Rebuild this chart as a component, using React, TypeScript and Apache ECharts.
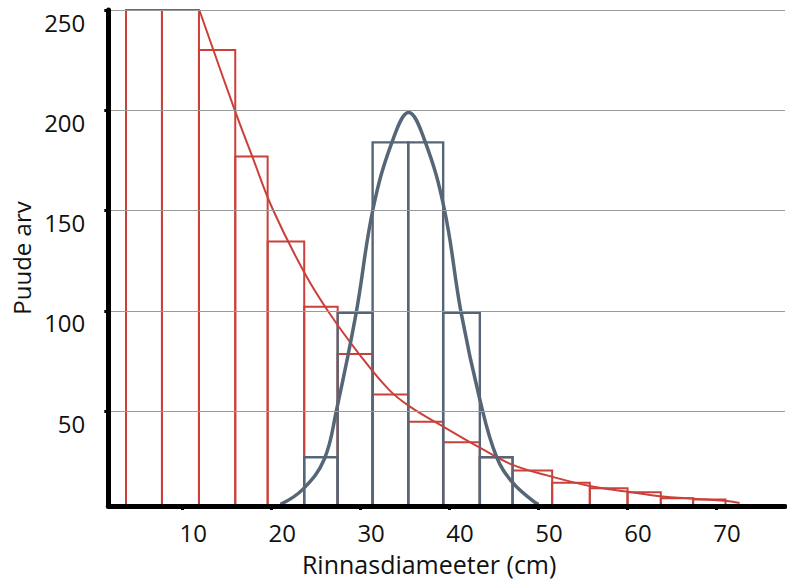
import React, { useEffect, useRef } from 'react';
import * as echarts from 'echarts';

const xTickValues = [10, 20, 30, 40, 50, 60, 70];
const yTickValues = [50, 100, 150, 200, 250];

const redEdges = [3.63, 7.67, 11.83, 15.91, 19.55, 23.66, 27.42, 31.35, 35.35, 39.28, 43.4, 47.08, 51.53, 55.76, 60.0, 63.74, 67.37, 71.01];
const redCounts = [250, 250, 230, 177, 134.6, 102, 78.5, 58.3, 44.7, 34.5, 27, 20.4, 14.3, 11.5, 9.6, 6.6, 6];

const greyEdges = [23.66, 27.42, 31.35, 35.35, 39.28, 43.4, 47.08];
const greyCounts = [27, 99, 184, 184, 99, 27];

const redCurveX = [11.87, 15.8, 17.84, 20.1, 23.7, 26.5, 29.9, 33.2, 35.5, 39.25, 43.4, 47.1, 51.6, 55.75, 59.9, 64, 71.2, 72.6];
const redCurveY = [250, 200.7, 176.8, 150.9, 118.9, 98.8, 78.1, 60.6, 52.4, 42.4, 31.8, 23.2, 17.2, 12.7, 9.9, 7.4, 5.2, 4.2];

const greyCurveX = [21.0, 23.5, 25.9, 27.3, 29.5, 31.4, 33.6, 35.4, 37.2, 39.4, 41.3, 43.4, 45.25, 47.1, 49.4, 50.0];
const greyCurveY = [3.5, 11, 25.9, 50.8, 99, 150.9, 185, 198.9, 185, 150.9, 99, 55.8, 27.5, 14.3, 5.1, 3.5];

const X_MIN = 1.64;
const X_MAX = 77.7;
const Y_MIN = 2.7;
const Y_MAX = 250;

const RED = '#c9413a';
const GREY = '#566676';
const FONT = 'Open Sans';

function bins(edges: number[], counts: number[]) {
  return counts.map((c, i) => [edges[i], edges[i + 1], c]);
}

function stepRender(color: string, width: number) {
  return (_params: any, api: any) => {
    const x0 = api.value(0);
    const x1 = api.value(1);
    const h = api.value(2);
    const a = api.coord([x0, Y_MIN]);
    const b = api.coord([x0, h]);
    const c = api.coord([x1, h]);
    const d = api.coord([x1, Y_MIN]);
    return {
      type: 'polyline',
      shape: { points: [a, b, c, d] },
      style: { fill: 'none', stroke: color, lineWidth: width },
    };
  };
}

export default function App() {
  const ref = useRef<HTMLDivElement>(null);
  useEffect(() => {
    if (!ref.current) return;
    const chart = echarts.init(ref.current, undefined, { renderer: 'svg' });
    chart.setOption({
      animation: false,
      backgroundColor: '#fff',
      grid: { left: 108.3, right: 2, top: 10, bottom: 75, containLabel: false },
      xAxis: {
        type: 'value',
        min: X_MIN,
        max: X_MAX,
        z: 10,
        name: 'Rinnasdiameeter (cm)',
        nameLocation: 'middle',
        nameGap: 45,
        nameTextStyle: { fontSize: 25, fontFamily: FONT, color: '#111', padding: [0, 35, 0, 0] },
        axisLine: { onZero: false, lineStyle: { color: '#000', width: 5 } },
        axisTick: { customValues: xTickValues, length: 4, lineStyle: { color: '#000', width: 3 } },
        axisLabel: { customValues: xTickValues, fontSize: 24, fontFamily: FONT, color: '#111', margin: 14, padding: [0, 0, 0, 21] },
        splitLine: { show: false },
      },
      yAxis: {
        type: 'value',
        min: Y_MIN,
        max: Y_MAX,
        z: 10,
        name: 'Puude arv',
        nameLocation: 'middle',
        nameGap: 73,
        nameTextStyle: { fontSize: 24, fontFamily: FONT, color: '#111' },
        axisLine: { onZero: false, lineStyle: { color: '#000', width: 5 } },
        axisTick: { customValues: yTickValues, length: 4, lineStyle: { color: '#000', width: 3 } },
        axisLabel: { customValues: yTickValues, fontSize: 24, fontFamily: FONT, color: '#111', margin: 23, verticalAlign: 'top', lineHeight: 24 },
        splitLine: { show: true, lineStyle: { color: '#9a9a9a', width: 1.2 } },
      },
      series: [
        {
          type: 'custom',
          name: 'red bins',
          renderItem: stepRender(RED, 2),
          encode: { x: [0, 1], y: 2 },
          clip: false,
          data: bins(redEdges, redCounts),
          z: 2,
        },
        {
          type: 'custom',
          name: 'grey bins',
          renderItem: stepRender(GREY, 2.4),
          encode: { x: [0, 1], y: 2 },
          clip: false,
          data: bins(greyEdges, greyCounts),
          z: 3,
        },
        {
          type: 'line',
          name: 'red curve',
          data: redCurveX.map((x, i) => [x, redCurveY[i]]),
          smooth: 0.4,
          showSymbol: false,
          symbol: 'none',
          clip: true,
          lineStyle: { color: RED, width: 2 },
          z: 4,
        },
        {
          type: 'line',
          name: 'grey curve',
          data: greyCurveX.map((x, i) => [x, greyCurveY[i]]),
          smooth: 0.4,
          showSymbol: false,
          symbol: 'none',
          clip: true,
          lineStyle: { color: GREY, width: 3.5 },
          z: 5,
        },
      ],
    });
    return () => chart.dispose();
  }, []);
  return <div ref={ref} style={{ position: 'fixed', left: 0, top: 0, width: 787, height: 581 }} />;
}
